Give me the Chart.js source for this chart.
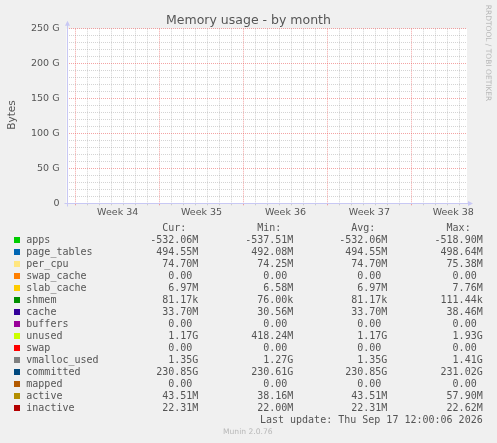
<!DOCTYPE html>
<html>
<head>
<meta charset="utf-8">
<script src="https://cdn.jsdelivr.net/npm/chart.js@4/dist/chart.umd.min.js"></script>
<style>
  html, body { margin:0; padding:0; background:#f0f0f0; }
  #wrap { position:relative; width:497px; height:443px; overflow:hidden; background:#f0f0f0; }
  #wrap canvas { position:absolute; left:0; top:0; }
  .t { position:absolute; white-space:pre; color:#555; }
  .mono { font-family:"DejaVu Sans Mono", monospace; font-size:10px; line-height:12px; height:12px; }
  .sw { position:absolute; width:6px; height:6px; }
</style>
</head>
<body>
<div id="wrap">
  <canvas id="c" width="497" height="443"></canvas>
</div>
<script>
// ---- data ----
const title = 'Memory usage - by month';
const yAxisTitle = 'Bytes';
const weekLabels = ['Week 34', 'Week 35', 'Week 36', 'Week 37', 'Week 38'];
const yTickValues = [0, 50, 100, 150, 200, 250];            // in G
const yTickLabels = ['0', '50 G', '100 G', '150 G', '200 G', '250 G'];
const seriesNames = ['apps','page_tables','per_cpu','swap_cache','slab_cache','shmem','cache','buffers','unused','swap','vmalloc_used','committed','mapped','active','inactive'];
const seriesColors = ['#00CC00','#0066B3','#FFE680','#FF8000','#FFCC00','#008F00','#330099','#990099','#CCFF00','#FF0000','#808080','#00487D','#B35A00','#B38F00','#B30000'];
const curValues = ['-532.06M','494.55M','74.70M','0.00','6.97M','81.17k','33.70M','0.00','1.17G','0.00','1.35G','230.85G','0.00','43.51M','22.31M'];
const minValues = ['-537.51M','492.08M','74.25M','0.00','6.58M','76.00k','30.56M','0.00','418.24M','0.00','1.27G','230.61G','0.00','38.16M','22.00M'];
const avgValues = ['-532.06M','494.55M','74.70M','0.00','6.97M','81.17k','33.70M','0.00','1.17G','0.00','1.35G','230.85G','0.00','43.51M','22.31M'];
const maxValues = ['-518.90M','498.64M','75.38M','0.00','7.76M','111.44k','38.46M','0.00','1.93G','0.00','1.41G','231.02G','0.00','57.90M','22.62M'];
const columnHeaders = ['Cur:', 'Min:', 'Avg:', 'Max:'];
const lastUpdate = 'Last update: Thu Sep 17 12:00:06 2026';
const watermark = 'RRDTOOL / TOBI OETIKER';
const footer = 'Munin 2.0.76';
// The reference plot area shows no drawn samples for any series.
const seriesPoints = seriesNames.map(() => []);

// ---- time axis (days from graph start) ----
const X_SPAN_DAYS = 401 / 12;     // munin month graph: 2h per pixel
const FIRST_MONDAY = 0.77;        // first week boundary, days from start

// ---- layout ----
const W = 497, H = 443;
const PLOT = { left: 66.5, top: 28.7, right: 467, bottom: 203.3 };
const XAXIS_H = 20;

const ticksX = [];
for (let d = FIRST_MONDAY; d <= X_SPAN_DAYS + 1e-9; d += 1) {
  const n = Math.round(d - FIRST_MONDAY);
  ticksX.push({ value: d, kind: n % 7 === 0 ? 'major' : 'minor' });
}
weekLabels.forEach((lab, w) => {
  const v = FIRST_MONDAY + 3.5 + 7 * w;
  if (v <= X_SPAN_DAYS) ticksX.push({ value: v, kind: 'label', text: lab });
});
ticksX.sort((a, b) => a.value - b.value);
const findTick = v => ticksX.find(k => Math.abs(k.value - v) < 1e-6);

const MAJOR = 'rgba(235,90,90,0.55)';
const MINOR = 'rgba(160,160,160,0.45)';
const NONE = 'rgba(0,0,0,0)';

const plotPlugin = {
  id: 'munin',
  beforeDraw(chart) {
    const { ctx, chartArea: a } = chart;
    ctx.save();
    ctx.fillStyle = '#ffffff';
    ctx.fillRect(a.left, a.top, a.right - a.left, a.bottom - a.top);
    ctx.restore();
  },
  afterDraw(chart) {
    const { ctx, chartArea: a } = chart;
    const col = '#c8c8f4';
    ctx.save();
    ctx.strokeStyle = col; ctx.fillStyle = col; ctx.lineWidth = 1;
    const x0 = Math.round(a.left) + 0.5, y0 = Math.round(a.bottom) + 0.5;
    ctx.beginPath();
    ctx.moveTo(x0, y0 + 3); ctx.lineTo(x0, a.top - 4);
    ctx.moveTo(x0 - 3, y0); ctx.lineTo(a.right + 3, y0);
    ctx.stroke();
    ctx.beginPath();
    ctx.moveTo(x0 - 2.5, a.top - 3); ctx.lineTo(x0 + 2.5, a.top - 3); ctx.lineTo(x0, a.top - 8); ctx.closePath();
    ctx.fill();
    ctx.beginPath();
    ctx.moveTo(a.right + 1, y0 - 2.5); ctx.lineTo(a.right + 1, y0 + 2.5); ctx.lineTo(a.right + 6, y0); ctx.closePath();
    ctx.fill();
    ctx.restore();
  }
};

new Chart(document.getElementById('c'), {
  type: 'line',
  data: {
    datasets: seriesNames.map((name, i) => ({
      label: name,
      data: seriesPoints[i],
      borderColor: seriesColors[i],
      backgroundColor: seriesColors[i],
      pointRadius: 0,
      borderWidth: 1
    }))
  },
  options: {
    responsive: false,
    animation: false,
    devicePixelRatio: 1,
    layout: { padding: { left: 0, top: PLOT.top, right: W - PLOT.right, bottom: H - PLOT.bottom - XAXIS_H } },
    plugins: { legend: { display: false }, title: { display: false }, tooltip: { enabled: false } },
    scales: {
      x: {
        type: 'linear', min: 0, max: X_SPAN_DAYS,
        afterBuildTicks: s => { s.ticks = ticksX.map(t => ({ value: t.value })); },
        afterFit: s => { s.height = XAXIS_H; },
        border: { display: false, dash: [1, 1] },
        grid: {
          drawTicks: true, tickLength: 2,
          color: c => {
            const t = c.tick ? findTick(c.tick.value) : null;
            if (!t) return MINOR;
            return t.kind === 'major' ? MAJOR : t.kind === 'minor' ? MINOR : NONE;
          },
          lineWidth: 1
        },
        ticks: {
          autoSkip: false, maxRotation: 0, minRotation: 0, padding: 2,
          color: '#555', font: { family: 'DejaVu Sans', size: 9.5 },
          callback: v => { const t = findTick(v); return (t && t.kind === 'label') ? t.text : ''; }
        }
      },
      y: {
        type: 'linear', min: 0, max: 250,
        afterBuildTicks: s => {
          const t = [];
          for (let v = 0; v <= 250; v += 10) t.push({ value: v });
          s.ticks = t;
        },
        afterFit: s => { s.width = PLOT.left; },
        border: { display: false, dash: [1, 1] },
        grid: {
          drawTicks: false,
          color: c => (c.tick && yTickValues.includes(Math.round(c.tick.value))) ? MAJOR : MINOR,
          lineWidth: 1
        },
        ticks: {
          autoSkip: false, padding: 7,
          color: '#555', font: { family: 'DejaVu Sans', size: 9.5 },
          callback: v => { const k = yTickValues.indexOf(v); return k >= 0 ? yTickLabels[k] : ''; }
        }
      }
    }
  },
  plugins: [plotPlugin]
});

// ---- HTML text overlays ----
const wrap = document.getElementById('wrap');
function addText(txt, css, cls) {
  const d = document.createElement('div');
  d.className = 't ' + (cls || '');
  d.textContent = txt;
  Object.assign(d.style, css);
  wrap.appendChild(d);
  return d;
}
addText(title, { left: '0px', width: W + 'px', textAlign: 'center', top: '12px', fontFamily: 'DejaVu Sans', fontSize: '12.5px', lineHeight: '16px' });
addText(yAxisTitle, { left: '-9px', top: '109px', width: '40px', textAlign: 'center', fontFamily: 'DejaVu Sans', fontSize: '10.5px', lineHeight: '12px', transform: 'rotate(-90deg)' });
addText(watermark, { left: (487.7 - 60) + 'px', top: (53.3 - 5) + 'px', width: '120px', textAlign: 'center', fontFamily: 'DejaVu Sans', fontSize: '7.5px', lineHeight: '10px', color: '#b8b8b8', transform: 'rotate(90deg)' });
addText(footer, { left: '223px', top: '426.5px', fontFamily: 'DejaVu Sans', fontSize: '7.6px', lineHeight: '10px', color: '#b8b8b8' });

const colRight = [198.3, 293.3, 387.3, 482.7];
const fmt = s => /\d$/.test(s) ? s + ' ' : s;
columnHeaders.forEach((h, j) => {
  addText(h + '  ', { right: (W - colRight[j]) + 'px', top: (227.5 - 6) + 'px' }, 'mono');
});
const cols = [curValues, minValues, avgValues, maxValues];
seriesNames.forEach((name, i) => {
  const cy = 240 + 12 * i;
  const sw = document.createElement('div');
  sw.className = 'sw';
  Object.assign(sw.style, { left: '14px', top: (cy - 3) + 'px', background: seriesColors[i] });
  wrap.appendChild(sw);
  addText(name, { left: '26.3px', top: (cy - 6) + 'px' }, 'mono');
  cols.forEach((arr, j) => {
    addText(fmt(arr[i]), { right: (W - colRight[j]) + 'px', top: (cy - 6) + 'px' }, 'mono');
  });
});
addText(lastUpdate, { right: (W - colRight[3]) + 'px', top: (420 - 6) + 'px' }, 'mono');
</script>
</body>
</html>
